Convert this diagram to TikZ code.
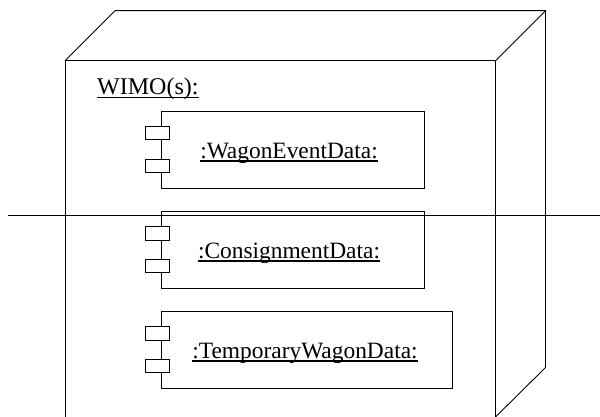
\documentclass[tikz,border=0pt]{standalone}
\usepackage{fontspec}
\setmainfont{Liberation Serif}
\begin{document}
\begin{tikzpicture}[x=1pt,y=-1pt,
  edge/.style={draw=black,line width=0.9pt},
  comp/.style={draw=black,line width=0.9pt,fill=white,rectangle,inner sep=0pt,anchor=north west,minimum height=77pt},
  port/.style={draw=black,line width=0.9pt,fill=white,rectangle,inner sep=0pt,minimum width=24pt,minimum height=13.5pt},
  lbl/.style={inner sep=0pt,anchor=base,font=\fontsize{23.4}{28}\selectfont},
  ul/.style={draw=black,line width=1.5pt}]
\useasboundingbox (0,0) rectangle (600,417);
% node cube
\coordinate (ftl) at (65,60.7);
\coordinate (ftr) at (495.5,60.7);
\coordinate (fbl) at (65,417);
\coordinate (fbr) at (495.5,417);
\coordinate (btl) at (115,10.7);
\coordinate (btr) at (545.5,10.7);
\coordinate (bbr) at (545.5,367.5);
\draw[edge] (fbl) -- (ftl) -- (ftr) -- (fbr);
\draw[edge] (ftl) -- (btl) -- (btr) -- (bbr) -- (fbr);
\draw[edge] (ftr) -- (btr);
% title
\node[inner sep=0pt,anchor=base west,font=\fontsize{24}{28}\selectfont] (wimo) at (97,95) {WIMO(s):};
\draw[ul] ([yshift=-2.7pt]wimo.base west) -- ([yshift=-2.7pt]wimo.base east);
% components
\node[comp,minimum width=263pt] (c1) at (161,110.7) {};
\node[comp,minimum width=263pt] (c2) at (161,210.7) {};
\node[comp,minimum width=290.5pt] (c3) at (161,310.7) {};
\foreach \c in {c1,c2,c3}{
  \node[port] (\c p1) at ([xshift=-4pt,yshift=-22.5pt]\c.north west) {};
  \node[port] (\c p2) at ([xshift=-4pt,yshift=22.5pt]\c.south west) {};
}
\node[lbl] (t1) at (289,158.3) {:WagonEventData:};
\node[lbl] (t2) at (289,258.3) {:ConsignmentData:};
\node[lbl] (t3) at (305,358.3) {:TemporaryWagonData:};
\foreach \t in {t1,t2,t3}{
  \draw[ul] ([yshift=-2.7pt]\t.base west) -- ([yshift=-2.7pt]\t.base east);
}
% horizontal line
\coordinate (hl) at (8,215.5);
\coordinate (hr) at (600,215.5);
\draw[line width=1.8pt] (hl) -- (hr);
\end{tikzpicture}
\end{document}
